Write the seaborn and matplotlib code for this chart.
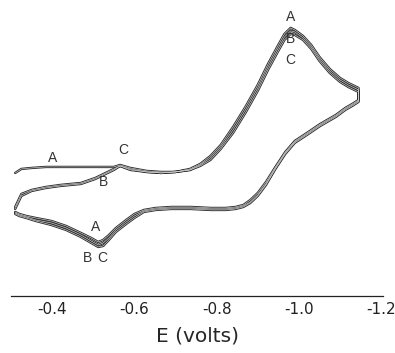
import pandas as pd
import numpy as np
import matplotlib
matplotlib.use('Agg')
import matplotlib.pyplot as plt
import seaborn as sns

# Forward (cathodic) sweep potentials, V
e_fwd = [-0.31, -0.325, -0.35, -0.385, -0.42, -0.47, -0.505, -0.53, -0.55, -0.565,
         -0.59, -0.63, -0.665, -0.70, -0.735, -0.76, -0.785, -0.81, -0.84, -0.87,
         -0.90, -0.925, -0.95, -0.965, -0.98, -0.99, -1.01, -1.03, -1.05, -1.075,
         -1.10, -1.12, -1.135, -1.145]
# Reverse (anodic) sweep potentials, V
e_rev = [-1.145, -1.13, -1.113, -1.09, -1.052, -1.016, -0.99, -0.967, -0.943, -0.92,
         -0.90, -0.882, -0.865, -0.846, -0.822, -0.786, -0.737, -0.69, -0.652, -0.623,
         -0.60, -0.58, -0.555, -0.538, -0.524, -0.512, -0.495, -0.47, -0.434, -0.398,
         -0.36, -0.337, -0.32, -0.31]

# currents (arbitrary units) for scans A, B, C
i_fwd_a = [2.7, 3.1, 3.2, 3.3, 3.3, 3.3, 3.3, 3.3, 3.3, 3.5, 3.2, 2.9, 2.8, 2.8, 3.1,
           3.6, 4.4, 5.5, 7.3, 9.3, 11.5, 13.6, 15.5, 16.6, 17.2, 17.0, 16.4, 15.5,
           14.3, 13.1, 12.2, 11.7, 11.4, 11.2]
i_fwd_b = [-0.7, 0.6, 1.0, 1.3, 1.5, 1.7, 2.2, 2.7, 3.1, 3.4, 3.1, 2.8, 2.7, 2.8, 3.0,
           3.5, 4.2, 5.3, 7.0, 9.0, 11.2, 13.3, 15.2, 16.3, 16.9, 16.8, 16.2, 15.3,
           14.1, 12.9, 12.0, 11.5, 11.2, 11.0]
i_fwd_c = [-0.9, 0.4, 0.9, 1.2, 1.4, 1.6, 2.1, 2.6, 3.0, 3.4, 3.0, 2.8, 2.7, 2.8, 3.0,
           3.4, 4.0, 5.1, 6.7, 8.7, 10.9, 13.0, 14.9, 16.0, 16.6, 16.5, 16.0, 15.1,
           13.9, 12.7, 11.8, 11.3, 11.0, 10.8]
i_rev_a = [10.0, 9.6, 9.2, 8.5, 7.6, 6.6, 5.9, 4.8, 3.3, 1.8, 0.7, 0.0, -0.5, -0.7, -0.8,
           -0.8, -0.7, -0.7, -0.8, -1.0, -1.4, -2.0, -2.8, -3.5, -4.0, -4.2, -3.8, -3.3,
           -2.6, -2.1, -1.8, -1.6, -1.4, -1.2]
i_rev_b = [9.9, 9.5, 9.1, 8.4, 7.5, 6.5, 5.8, 4.7, 3.2, 1.6, 0.5, -0.2, -0.6, -0.8, -0.9,
           -0.9, -0.8, -0.8, -0.9, -1.1, -1.6, -2.2, -3.0, -3.8, -4.3, -4.5, -4.1, -3.5,
           -2.8, -2.3, -2.0, -1.7, -1.5, -1.3]
i_rev_c = [9.8, 9.4, 9.0, 8.3, 7.4, 6.4, 5.7, 4.6, 3.1, 1.5, 0.4, -0.3, -0.7, -0.9, -1.0,
           -1.0, -0.9, -0.9, -1.0, -1.2, -1.8, -2.4, -3.2, -4.0, -4.6, -4.7, -4.3, -3.7,
           -3.0, -2.5, -2.1, -1.8, -1.6, -1.4]

scans = ['A', 'B', 'C']
fwd = {'A': i_fwd_a, 'B': i_fwd_b, 'C': i_fwd_c}
rev = {'A': i_rev_a, 'B': i_rev_b, 'C': i_rev_c}

# scan labels: (text, E, I)
labels = [('A', -0.979, 18.3), ('B', -0.979, 16.1), ('C', -0.979, 14.0),
          ('A', -0.402, 4.2), ('B', -0.526, 1.8), ('C', -0.572, 5.0),
          ('A', -0.505, -2.7), ('B', -0.485, -5.8), ('C', -0.521, -5.8)]

rows = []
for s in scans:
    for e, i in zip(e_fwd + e_rev, fwd[s] + rev[s]):
        rows.append({'E': e, 'I': i, 'scan': s})
df = pd.DataFrame(rows)

sns.set_style('white')
plt.rcParams['font.family'] = ['DejaVu Sans']
plt.rcParams['axes.unicode_minus'] = False

fig = plt.figure(figsize=(3.95, 3.53), dpi=100)
ax = fig.add_axes([0.028, 0.1615, 0.942, 0.8105])

# outlined traces, like the scanned original
for s in scans:
    sub = df[df['scan'] == s]
    sns.lineplot(data=sub, x='E', y='I', sort=False, estimator=None,
                 color='#2a2a2a', lw=1.7, ax=ax)
for s in scans:
    sub = df[df['scan'] == s]
    sns.lineplot(data=sub, x='E', y='I', sort=False, estimator=None,
                 color='#d8d8d8', lw=0.45, ax=ax)

for t, e, i in labels:
    ax.text(e, i, t, ha='center', va='center', fontsize=10,
            family='Liberation Sans', color='#333333')

ax.set_xlim(-0.303, -1.205)
ax.set_ylim(-9.6, 19.0)
ax.set_xticks([-0.3, -0.4, -0.5, -0.6, -0.7, -0.8, -0.9, -1.0, -1.1, -1.2])
ax.set_xticklabels(['', '-0.4', '', '-0.6', '', '-0.8', '', '-1.0', '', '-1.2'])
ax.tick_params(axis='x', direction='in', length=4, width=0.8, labelsize=11,
               pad=4, colors='#222222')
ax.set_yticks([])
ax.set_ylabel('')
ax.set_xlabel('E (volts)', fontsize=14.5, labelpad=7)
for side in ['left', 'right', 'top']:
    ax.spines[side].set_visible(False)
ax.spines['bottom'].set_color('#222222')
ax.spines['bottom'].set_linewidth(0.9)

plt.savefig('out.png', dpi=100)
